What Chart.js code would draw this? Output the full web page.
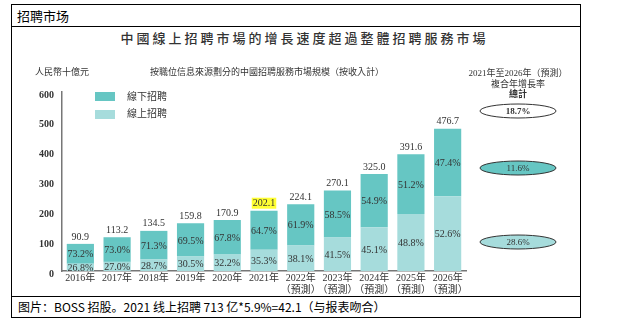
<!DOCTYPE html>
<html>
<head>
<meta charset="utf-8">
<script src="https://cdn.jsdelivr.net/npm/chart.js@4.4.1/dist/chart.umd.min.js"></script>
<style>
body { margin: 0; width: 619px; height: 323px; background: #fff; overflow: hidden; position: relative; font-family: 'Noto Sans CJK SC', sans-serif; }
#frame { position: absolute; left: 11px; top: 4px; width: 570px; height: 314px; border: 1px solid #000; box-sizing: border-box; }
#head { position: absolute; left: 0; top: 0; width: 100%; height: 22px; border-bottom: 1px solid #000; font-size: 13px; line-height: 21px; padding-left: 5px; box-sizing: border-box; color: #000; }
#foot { position: absolute; left: 0; bottom: 0; width: 100%; height: 21px; border-top: 1px solid #000; font-size: 12px; line-height: 20px; padding-left: 6px; box-sizing: border-box; color: #000; }
#title { position: absolute; left: 0; width: 609px; top: 28px; text-align: center; font-size: 13px; font-weight: 500; color: #333; letter-spacing: 3px; }
#wrap { position: absolute; left: 0; top: 0; width: 619px; height: 323px; }
</style>
</head>
<body>
<div id="frame">
  <div id="head">招聘市场</div>
  <div id="foot">图片：BOSS 招股。2021 线上招聘 713 亿*5.9%=42.1（与报表吻合）</div>
</div>
<div id="title">中國線上招聘市場的增長速度超過整體招聘服務市場</div>
<div id="wrap"><canvas id="chart"></canvas></div>
<script>
// values
const years = ['2016年', '2017年', '2018年', '2019年', '2020年', '2021年',
    ['2022年', '（預測）'], ['2023年', '（預測）'], ['2024年', '（預測）'],
    ['2025年', '（預測）'], ['2026年', '（預測）']];
const totals = [90.9, 113.2, 134.5, 159.8, 170.9, 202.1, 224.1, 270.1, 325.0, 391.6, 476.7];
const onlineShare = [26.8, 27.0, 28.7, 30.5, 32.2, 35.3, 38.1, 41.5, 45.1, 48.8, 52.6];
const offlineShare = [73.2, 73.0, 71.3, 69.5, 67.8, 64.7, 61.9, 58.5, 54.9, 51.2, 47.4];
const yTicks = [0, 100, 200, 300, 400, 500, 600];
const cagr = { total: '18.7%', offline: '11.6%', online: '28.6%' };

const onlineValues = totals.map((t, i) => t * onlineShare[i] / 100);
const offlineValues = totals.map((t, i) => t - onlineValues[i]);

const DARK = '#66c6c3';
const LIGHT = '#a6dcdc';
const SERIF = '"Liberation Serif", "Noto Sans CJK TC", serif';

const decorPlugin = {
    id: 'decor',
    afterDatasetsDraw(chart) {
        const ctx = chart.ctx;
        ctx.save();
        ctx.textAlign = 'center';
        ctx.textBaseline = 'middle';
        ctx.fillStyle = '#333';
        ctx.font = '10px ' + SERIF;

        // percent labels in each segment
        chart.data.datasets.forEach((ds, di) => {
            const shares = di === 0 ? onlineShare : offlineShare;
            chart.getDatasetMeta(di).data.forEach((bar, i) => {
                ctx.fillText(shares[i].toFixed(1) + '%', bar.x, (bar.y + bar.base) / 2 + 1);
            });
        });

        // totals above bars
        chart.getDatasetMeta(1).data.forEach((bar, i) => {
            const txt = totals[i].toFixed(1);
            const y = bar.y - 7;
            if (i === 5) {
                const w = ctx.measureText(txt).width;
                ctx.fillStyle = '#ffff33';
                ctx.fillRect(bar.x - w / 2 - 1, y - 6, w + 2, 11);
            }
            ctx.fillStyle = '#333';
            ctx.fillText(txt, bar.x, y);
        });

        // unit, subtitle
        ctx.font = '9px ' + SERIF;
        ctx.textAlign = 'left';
        ctx.fillText('人民幣十億元', 35, 73);
        ctx.fillText('按職位信息來源劃分的中國招聘服務市場規模（按收入計）', 150, 73);

        // legend
        ctx.fillStyle = DARK;
        ctx.fillRect(95, 92, 20, 9);
        ctx.fillStyle = LIGHT;
        ctx.fillRect(95, 110, 20, 9);
        ctx.fillStyle = '#333';
        ctx.font = '10px ' + SERIF;
        ctx.fillText(chart.data.datasets[1].label, 127, 97);
        ctx.fillText(chart.data.datasets[0].label, 127, 114);

        // CAGR block
        ctx.textAlign = 'center';
        ctx.font = '9px ' + SERIF;
        ctx.fillText('2021年至2026年（預測）', 518, 74);
        ctx.fillText('複合年增長率', 518, 85);
        ctx.font = 'bold 9px ' + SERIF;
        ctx.fillText('總計', 518, 95);

        const ovals = [[111, '#ffffff', cagr.total, true], [168, DARK, cagr.offline, false], [242, LIGHT, cagr.online, false]];
        ovals.forEach(([cy, fill, txt, bold]) => {
            ctx.beginPath();
            ctx.ellipse(518, cy, 38, 7, 0, 0, Math.PI * 2);
            ctx.fillStyle = fill;
            ctx.fill();
            ctx.lineWidth = 1;
            ctx.strokeStyle = '#333';
            ctx.stroke();
            ctx.fillStyle = '#333';
            ctx.font = (bold ? 'bold ' : '') + '9px ' + SERIF;
            ctx.fillText(txt, 518, cy + 1);
        });
        ctx.restore();
    }
};

new Chart(document.getElementById('chart'), {
    type: 'bar',
    data: {
        labels: years,
        datasets: [
            { label: '線上招聘', data: onlineValues, backgroundColor: LIGHT },
            { label: '線下招聘', data: offlineValues, backgroundColor: DARK }
        ]
    },
    options: {
        responsive: true,
        maintainAspectRatio: false,
        animation: false,
        layout: { padding: { left: 22, right: 153, top: 92, bottom: 8 } },
        plugins: { legend: { display: false }, tooltip: { enabled: false } },
        datasets: { bar: { barPercentage: 0.74, categoryPercentage: 1 } },
        scales: {
            x: {
                stacked: true,
                grid: { display: false, drawTicks: false },
                border: { color: '#777', width: 1.5 },
                afterFit: (s) => { s.height = 44; },
                ticks: { color: '#333', padding: 2, maxRotation: 0, autoSkip: false, font: { family: SERIF, size: 10, lineHeight: 1.15 } }
            },
            y: {
                stacked: true,
                min: 0,
                max: 600,
                grid: { display: false, drawTicks: false },
                border: { color: '#777', width: 1.5 },
                afterFit: (s) => { s.width = 40; },
                afterBuildTicks: (s) => { s.ticks = yTicks.map(v => ({ value: v })); },
                ticks: { color: '#333', padding: 8, labelOffset: 3, font: { family: SERIF, size: 10, weight: 'bold' } }
            }
        }
    },
    plugins: [decorPlugin]
});
</script>
</body>
</html>
